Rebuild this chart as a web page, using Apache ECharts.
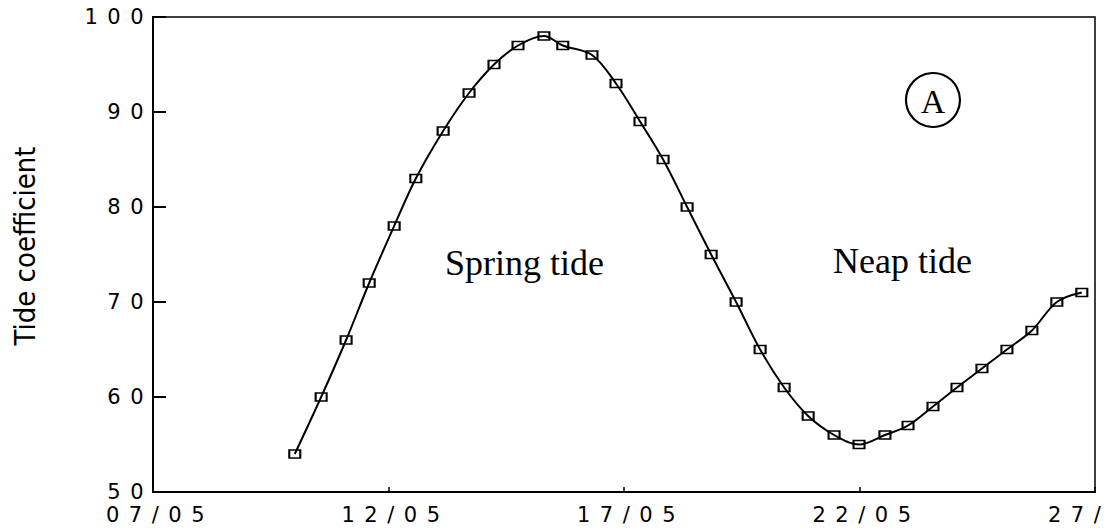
<!DOCTYPE html>
<html>
<head>
<meta charset="utf-8">
<script src="https://cdn.jsdelivr.net/npm/echarts@6/dist/echarts.min.js"></script>
<style>
  html, body { margin: 0; padding: 0; background: #fff; }
  #chart { width: 1109px; height: 531px; }
  /* wide, spaced plotter-style tick labels */
  text[style*="Verdana"] { letter-spacing: 9.5px; }
</style>
</head>
<body>
<div id="chart"></div>
<script>
// ---- data ----
const days = [10.01, 10.57, 11.10, 11.59, 12.12, 12.58, 13.16, 13.71, 14.24, 14.75, 15.30,
              15.70, 16.32, 16.83, 17.34, 17.83, 18.34, 18.85, 19.38, 19.89, 20.40, 20.91,
              21.46, 21.99, 22.54, 23.03, 23.56, 24.07, 24.60, 25.13, 25.66, 26.19, 26.72];
const coefficients = [54, 60, 66, 72, 78, 83, 88, 92, 95, 97, 98,
                      97, 96, 93, 89, 85, 80, 75, 70, 65, 61, 58,
                      56, 55, 56, 57, 59, 61, 63, 65, 67, 70, 71];
const xTickValues = [7, 12, 17, 22, 27];
const xTickLabels = ['07/05', '12/05', '17/05', '22/05', '27/05'];
const yTickLabels = ['50', '60', '70', '80', '90', '100'];
const yAxisTitle = 'Tide coefficient';
const springLabel = 'Spring tide';
const neapLabel = 'Neap tide';
const panelLetter = 'A';

const points = days.map((d, i) => [d, coefficients[i]]);

const chart = echarts.init(document.getElementById('chart'), null, { renderer: 'svg' });
const tickFont = "Verdana, 'DejaVu Sans', sans-serif";

chart.setOption({
  backgroundColor: '#fff',
  animation: false,
  grid: {
    left: 153, right: 14, top: 17, bottom: 39,
    outerBoundsMode: 'none', containLabel: false,
    show: true, borderColor: '#000', borderWidth: 1.5, backgroundColor: 'transparent'
  },
  xAxis: {
    type: 'value', min: 7, max: 27, interval: 5,
    axisLine: { show: true, lineStyle: { color: '#000', width: 2 } },
    axisTick: { show: true, inside: true, length: 5, lineStyle: { color: '#000', width: 1.5 } },
    splitLine: { show: false },
    axisLabel: {
      color: '#000', fontSize: 21, fontFamily: tickFont, margin: 12,
      padding: [0, 0, 0, 14],
      formatter: v => {
        const k = xTickValues.indexOf(v);
        return k >= 0 ? xTickLabels[k] : '';
      }
    }
  },
  yAxis: {
    type: 'value', min: 50, max: 100, interval: 10,
    axisLine: { show: true, lineStyle: { color: '#000', width: 2 } },
    axisTick: { show: true, inside: true, length: 13, lineStyle: { color: '#000', width: 2 } },
    splitLine: { show: false },
    axisLabel: {
      color: '#000', fontSize: 21, fontFamily: tickFont, margin: 0,
      formatter: v => {
        const s = String(v);
        return yTickLabels.indexOf(s) >= 0 ? s : '';
      }
    }
  },
  series: [{
    type: 'line',
    data: points,
    smooth: 0.35,
    symbol: 'rect',
    symbolSize: [11, 8],
    showAllSymbol: true,
    lineStyle: { color: '#000', width: 2 },
    itemStyle: { color: 'rgba(255,255,255,0)', borderColor: '#000', borderWidth: 1.8 },
    emphasis: { disabled: true }
  }],
  graphic: [
    {
      type: 'text', x: 25, y: 246, rotation: Math.PI / 2,
      style: { text: yAxisTitle, fill: '#000', font: "29px 'Liberation Sans Narrow', 'DejaVu Sans Condensed', sans-serif", align: 'center', verticalAlign: 'middle' }
    },
    {
      type: 'text', left: 445, top: 245,
      style: { text: springLabel, fill: '#000', font: "36px 'Liberation Serif', serif" }
    },
    {
      type: 'text', left: 833, top: 243,
      style: { text: neapLabel, fill: '#000', font: "36px 'Liberation Serif', serif" }
    },
    {
      type: 'circle', shape: { cx: 933, cy: 100, r: 27 },
      style: { fill: 'none', stroke: '#000', lineWidth: 2.2 }
    },
    {
      type: 'text', x: 933, y: 101,
      style: { text: panelLetter, fill: '#000', font: "34px 'Liberation Serif', serif", align: 'center', verticalAlign: 'middle' }
    }
  ]
});
</script>
</body>
</html>
